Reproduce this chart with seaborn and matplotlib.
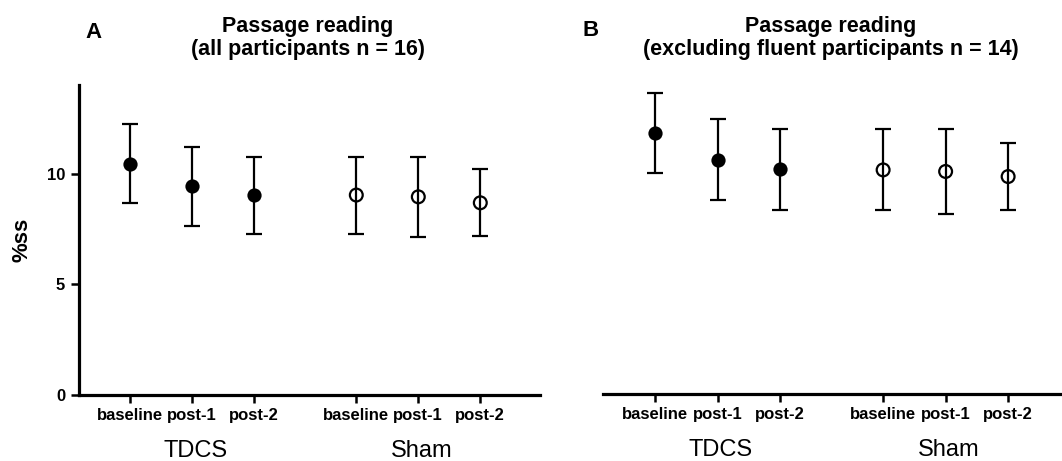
import numpy as np
import pandas as pd
import matplotlib
matplotlib.use("Agg")
import matplotlib.pyplot as plt
import matplotlib.transforms as mtransforms
import seaborn as sns

# ---------------- data ----------------
sessions = ["baseline", "post-1", "post-2"]
groups = ["TDCS", "Sham"]
tick_labels = sessions + sessions
y_ticks = [0, 5, 10]

a_tdcs_mean = [10.45, 9.42, 9.02]
a_tdcs_err = [1.80, 1.77, 1.74]
a_sham_mean = [9.03, 8.95, 8.68]
a_sham_err = [1.74, 1.80, 1.52]

b_tdcs_mean = [11.80, 10.59, 10.15]
b_tdcs_err = [1.80, 1.85, 1.83]
b_sham_mean = [10.12, 10.05, 9.82]
b_sham_err = [1.83, 1.90, 1.53]

title_a = "Passage reading\n(all participants n = 16)"
title_b = "Passage reading\n(excluding fluent participants n = 14)"

# ---------------- style ----------------
sns.set_theme(style="ticks")
plt.rcParams["font.family"] = ["Liberation Sans", "DejaVu Sans"]
plt.rcParams.update({
    "text.color": "black",
    "axes.labelcolor": "black",
    "axes.edgecolor": "black",
    "xtick.color": "black",
    "ytick.color": "black",
    "xtick.labelcolor": "black",
    "ytick.labelcolor": "black",
})

W, H = 1062, 461
fig = plt.figure(figsize=(W / 100, H / 100), dpi=100)

pos_tdcs = np.array([1.0, 2.0, 3.0])
pos_sham = np.array([4.65, 5.65, 6.65])


def panel(ax, tdcs_m, tdcs_e, sham_m, sham_e, show_y):
    df_t = pd.DataFrame({"x": pos_tdcs, "y": tdcs_m, "e": tdcs_e})
    df_s = pd.DataFrame({"x": pos_sham, "y": sham_m, "e": sham_e})
    ax.errorbar(df_t["x"], df_t["y"], yerr=df_t["e"], fmt="none", ecolor="black",
                elinewidth=1.6, capsize=5.8, capthick=1.6, zorder=2)
    ax.errorbar(df_s["x"], df_s["y"], yerr=df_s["e"], fmt="none", ecolor="black",
                elinewidth=1.6, capsize=5.8, capthick=1.6, zorder=2)
    sns.scatterplot(data=df_t, x="x", y="y", ax=ax, marker="o", s=105,
                    color="black", edgecolor="black", linewidth=0, zorder=3)
    sns.scatterplot(data=df_s, x="x", y="y", ax=ax, marker="o", s=85,
                    facecolor="none", edgecolor="black", linewidth=1.6, zorder=3)
    ax.set_ylim(0, 14)
    ax.set_xticks(np.concatenate([pos_tdcs, pos_sham]))
    ax.set_xticklabels(tick_labels, fontsize=12, fontweight="bold")
    ax.set_xlabel("")
    ax.set_ylabel("")
    for s in ["top", "right"]:
        ax.spines[s].set_visible(False)
    ax.spines["bottom"].set_linewidth(2.3)
    ax.spines["left"].set_linewidth(2.3)
    ax.tick_params(axis="x", length=6, width=1.8, pad=3, color="black")
    if show_y:
        ax.set_yticks(y_ticks)
        ax.set_yticklabels([str(v) for v in y_ticks], fontsize=12, fontweight="bold")
        ax.tick_params(axis="y", length=6, width=1.8, pad=4, color="black")
        ax.set_ylabel("%ss", fontsize=16, fontweight="bold")
        ax.yaxis.set_label_coords(-0.100, 0.5)
    else:
        ax.spines["left"].set_visible(False)
        ax.set_yticks([])
    trans = mtransforms.blended_transform_factory(ax.transData, ax.transAxes)
    ax.text(pos_tdcs[1] + 0.05, -0.18, groups[0], transform=trans, ha="center",
            va="center", fontsize=17)
    ax.text(pos_sham[1] + 0.05, -0.18, groups[1], transform=trans, ha="center",
            va="center", fontsize=17)


axA = fig.add_axes([79 / W, (H - 395) / H, 461 / W, 310 / H])
panel(axA, a_tdcs_mean, a_tdcs_err, a_sham_mean, a_sham_err, True)
axA.set_xlim(1 - 51 / 62, 1 - 51 / 62 + 461 / 62)

axB = fig.add_axes([603 / W, (H - 394) / H, 459 / W, 310 / H])
panel(axB, b_tdcs_mean, b_tdcs_err, b_sham_mean, b_sham_err, False)
axB.set_xlim(1 - 52 / 62.5, 1 - 52 / 62.5 + 459 / 62.5)

fig.text(308 / W, 1 - 38 / H, title_a, ha="center", va="center", fontsize=15.5,
         fontweight="bold", linespacing=1.1)
fig.text(831 / W, 1 - 38 / H, title_b, ha="center", va="center", fontsize=15.5,
         fontweight="bold", linespacing=1.1)
fig.text(93 / W, 1 - 32 / H, "A", ha="center", va="center", fontsize=16,
         fontweight="bold")
fig.text(591 / W, 1 - 31 / H, "B", ha="center", va="center", fontsize=16,
         fontweight="bold")

fig.savefig("out.png", dpi=100)
